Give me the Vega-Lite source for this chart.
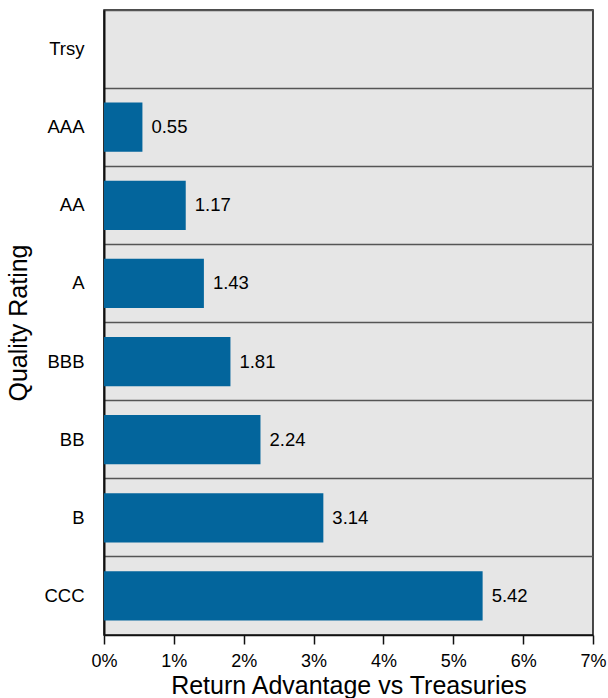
{
  "$schema": "https://vega.github.io/schema/vega-lite/v6.json",
  "autosize": {"type": "none"},
  "padding": {"left": 104, "top": 10, "right": 15, "bottom": 63},
  "width": 489,
  "height": 625,
  "background": "white",
  "config": {
    "font": "Liberation Sans",
    "view": {"fill": "#e6e6e6", "stroke": "#111111", "strokeWidth": 1.5}
  },
  "data": {
    "values": [
      {"rating": "Trsy", "value": 0},
      {"rating": "AAA", "value": 0.55},
      {"rating": "AA", "value": 1.17},
      {"rating": "A", "value": 1.43},
      {"rating": "BBB", "value": 1.81},
      {"rating": "BB", "value": 2.24},
      {"rating": "B", "value": 3.14},
      {"rating": "CCC", "value": 5.42}
    ]
  },
  "encoding": {
    "y": {
      "field": "rating",
      "type": "nominal",
      "sort": null,
      "scale": {"domain": ["Trsy", "AAA", "AA", "A", "BBB", "BB", "B", "CCC"], "paddingInner": 0, "paddingOuter": 0},
      "axis": {
        "title": "Quality Rating",
        "titleFontSize": 25,
        "titleFontWeight": "normal",
        "titleColor": "black",
        "titlePadding": 12,
        "labelFontSize": 18.5,
        "labelColor": "black",
        "labelPadding": 20,
        "ticks": false,
        "domainColor": "#111111",
        "domainWidth": 2,
        "grid": true,
        "bandPosition": 0,
        "gridColor": "#555555",
        "gridWidth": 1.5
      }
    },
    "x": {
      "field": "value",
      "type": "quantitative",
      "scale": {"domain": [0, 7], "nice": false},
      "axis": {
        "title": "Return Advantage vs Treasuries",
        "titleFontSize": 25,
        "titleFontWeight": "normal",
        "titleColor": "black",
        "titlePadding": 3,
        "labelFontSize": 18,
        "labelColor": "black",
        "labelPadding": 8,
        "tickCount": 7,
        "tickColor": "#111111",
        "tickSize": 9,
        "tickWidth": 1.5,
        "domainColor": "#111111",
        "domainWidth": 1.5,
        "grid": false,
        "labelExpr": "datum.value + '%'",
        "labelFlush": false
      }
    }
  },
  "layer": [
    {
      "mark": {"type": "bar", "color": "#03659c", "height": {"band": 0.63}}
    },
    {
      "transform": [{"filter": "datum.value > 0"}],
      "mark": {"type": "text", "align": "left", "baseline": "middle", "dx": 9, "fontSize": 18.5, "color": "black"},
      "encoding": {
        "text": {"field": "value", "type": "quantitative", "format": ".2f"}
      }
    }
  ]
}
